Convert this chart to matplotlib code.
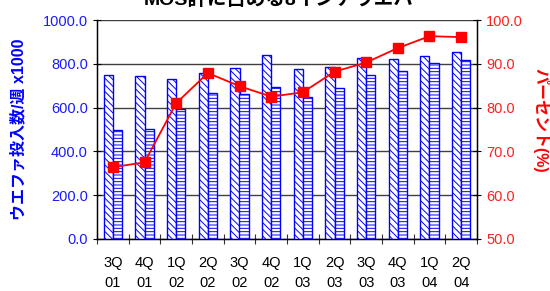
import matplotlib
matplotlib.use("Agg")
import matplotlib.pyplot as plt
import numpy as np

plt.rcParams['font.family'] = ['Liberation Sans', 'Noto Sans CJK JP', 'DejaVu Sans']
plt.rcParams['hatch.linewidth'] = 0.7
plt.rcParams['hatch.color'] = '#0000FF'

quarters = ["3Q\n01", "4Q\n01", "1Q\n02", "2Q\n02", "3Q\n02", "4Q\n02",
            "1Q\n03", "2Q\n03", "3Q\n03", "4Q\n03", "1Q\n04", "2Q\n04"]
mos_total = [749, 743, 732, 758, 781, 839, 775, 784, 828, 820, 834, 852]
wafer_8inch = [498, 504, 594, 665, 661, 693, 647, 691, 750, 767, 802, 819]
percent = [66.4, 67.5, 81.0, 87.9, 84.9, 82.5, 83.5, 88.2, 90.3, 93.6, 96.3, 96.1]

fig = plt.figure(figsize=(5.5, 2.91), dpi=100)
ax = fig.add_axes([97/550, 1-239/291, 380/550, 219/291])

x = np.arange(len(quarters))
w = 0.29
ax.bar(x - w/2, mos_total, w, facecolor='white', edgecolor='#0000FF',
       hatch='\\\\\\\\\\', linewidth=1.0, zorder=3)
ax.bar(x + w/2, wafer_8inch, w, facecolor='white', edgecolor='#0000FF',
       hatch='-----', linewidth=1.0, zorder=3)

ax.set_xlim(-0.5, len(quarters) - 0.5)
ax.set_ylim(0, 1000)
ax.set_yticks(np.arange(0, 1001, 200))
ax.set_yticklabels([f"{v:.1f}" for v in np.arange(0, 1001, 200)])
ax.yaxis.grid(True, color='#404040', linewidth=1.0, zorder=0)
ax.set_axisbelow(True)
ax.tick_params(axis='y', labelsize=10.5, direction='inout', length=6, color='black')
for lab in ax.get_yticklabels():
    lab.set_color('#1a1aff')

ax.set_xticks(np.arange(-0.5, len(quarters), 1.0))
ax.set_xticklabels([])
ax.set_xticks(x, minor=True)
ax.set_xticklabels(quarters, minor=True, fontsize=10.5, linespacing=1.6)
ax.tick_params(axis='x', which='major', direction='inout', length=7, color='#333333')
ax.tick_params(axis='x', which='minor', length=0, pad=12)

ax.spines['top'].set_visible(False)
for s in ['left', 'bottom', 'right']:
    ax.spines[s].set_color('black')
    ax.spines[s].set_linewidth(1.0)

ax.set_ylabel("ウエファ投入数/週 x1000", color='#0000FF', fontsize=11.5,
              fontweight='bold', labelpad=12)

ax2 = ax.twinx()
ax2.plot(x, percent, color='#FF0000', linewidth=1.3, marker='s',
         markersize=7, markerfacecolor='#FF0000', markeredgecolor='#FF0000', zorder=5)
ax2.set_ylim(50, 100)
ax2.set_yticks(np.arange(50, 101, 10))
ax2.set_yticklabels([f"{v:.1f}" for v in np.arange(50, 101, 10)])
ax2.tick_params(axis='y', labelcolor='#FF2020', labelsize=10.5, direction='inout',
                length=6, color='black')
ax2.spines['top'].set_visible(False)
ax2.spines['right'].set_color('black')
ax2.set_ylabel("パーセント(%)", color='#FF0000', fontsize=11.5, fontweight='bold',
               rotation=270, labelpad=18)
ax2.yaxis.set_label_coords(1.19, 0.54)

fig.text(279/550, 1 - 5/291, "MOS計に占める8インチウエハ", ha='center', va='baseline',
         fontsize=14, fontweight='bold')

fig.savefig("out.png", dpi=100)
